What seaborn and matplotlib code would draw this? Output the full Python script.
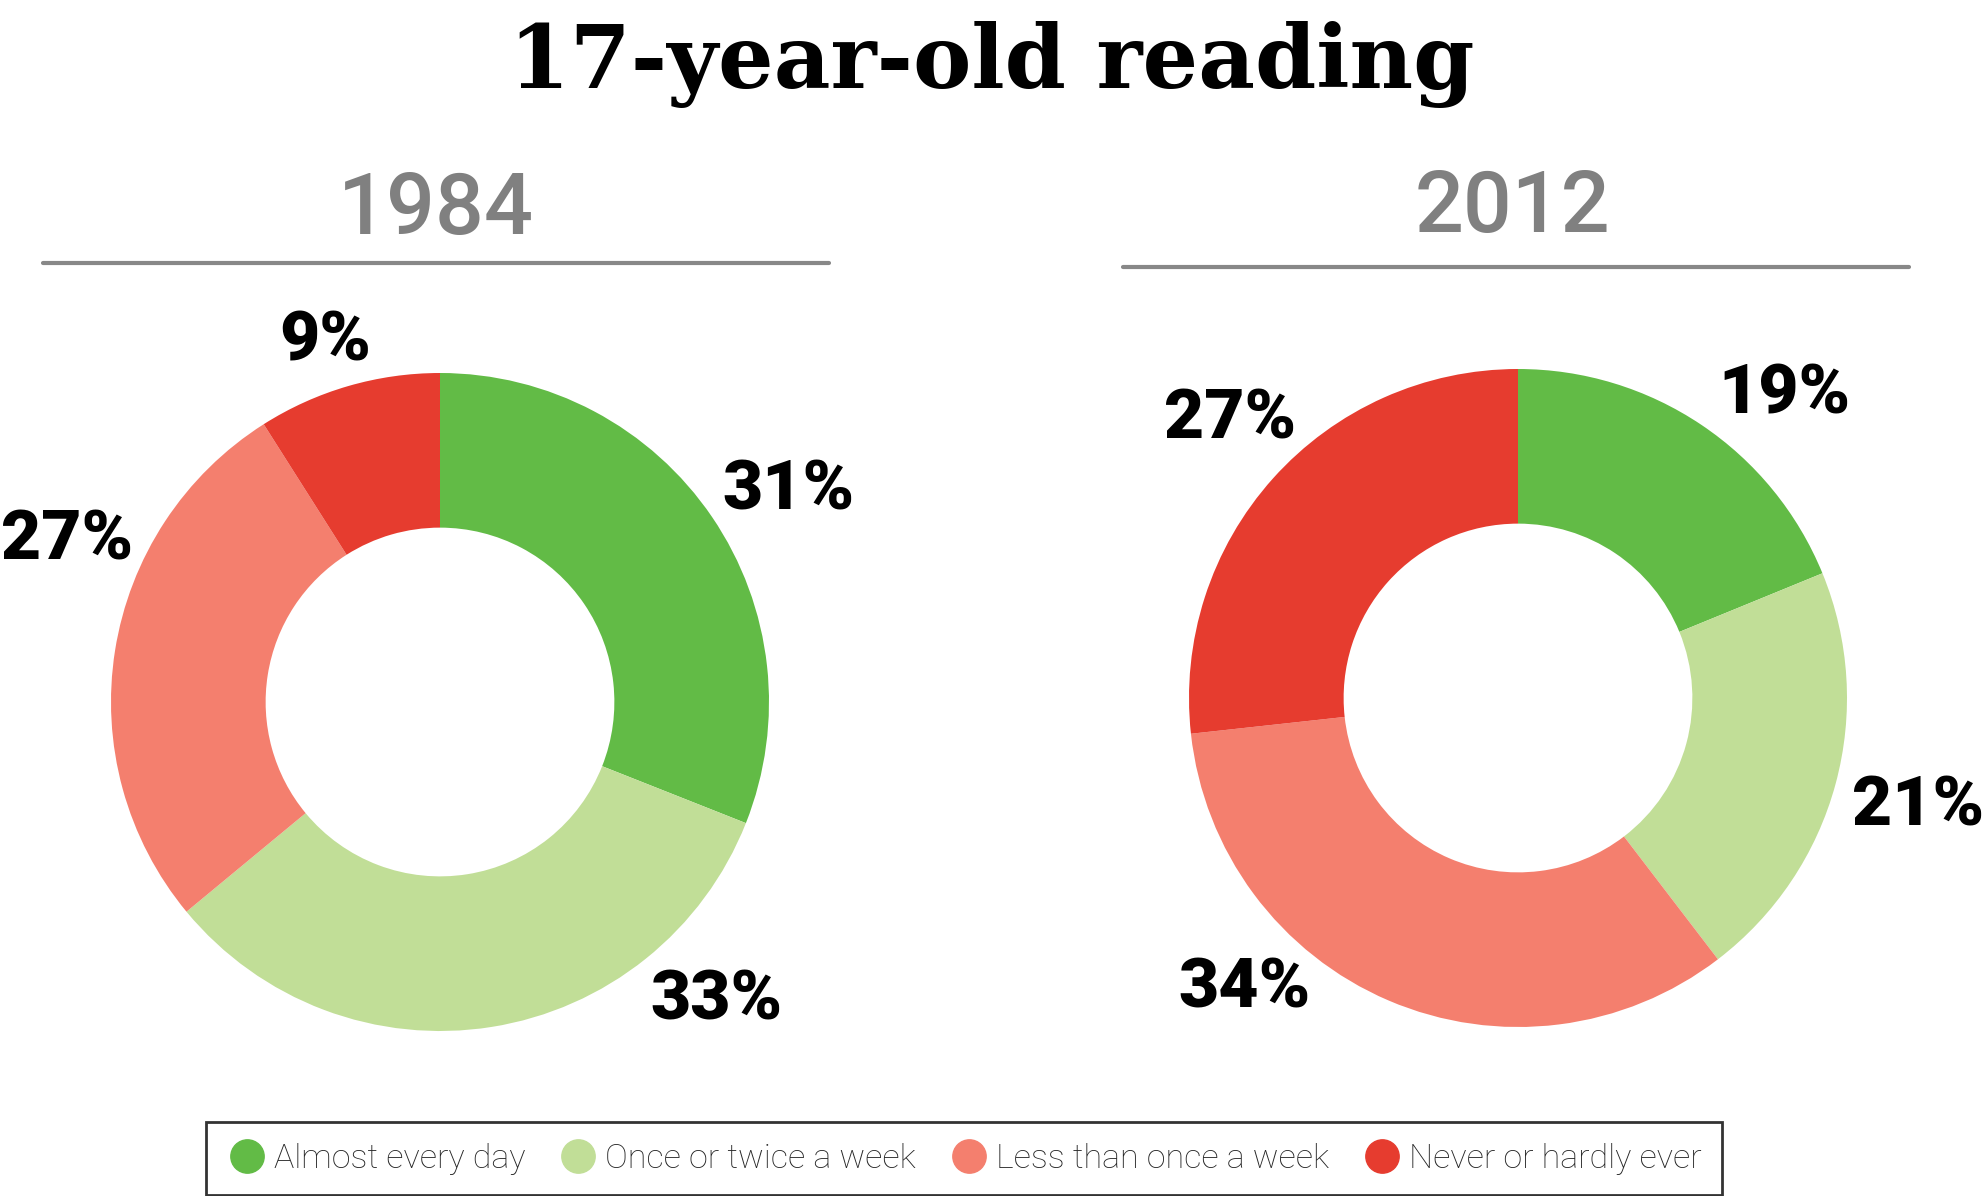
import matplotlib
matplotlib.use("Agg")
import matplotlib.pyplot as plt
from matplotlib.lines import Line2D
import seaborn as sns

# data
categories = ['Almost every day', 'Once or twice a week',
              'Less than once a week', 'Never or hardly ever']
years = ['1984', '2012']
share_1984 = [31, 33, 27, 9]
share_2012 = [19, 21, 34, 27]
title = '17-year-old reading'

colors = sns.color_palette(['#62BB46', '#C1DE97', '#F47F6E', '#E63C2F'])

sns.set_style('white')

W, H = 1983, 1196
fig = plt.figure(figsize=(W / 100, H / 100), dpi=100)

# donut geometry in pixels (x from left, y from top)
R = 329
centers = [(440, 702), (1518, 698)]
# label spots in donut radius units
label_spots = [
    [(1.06, 0.64), (0.84, -0.91), (-1.135, 0.49), (-0.35, 1.095)],
    [(0.81, 0.92), (1.215, -0.33), (-0.83, -0.885), (-0.875, 0.845)],
]
header_x = [345 * 1.2647, 1196 * 1.2647]
header_base = [234, 232]
rule_spans = [(43, 829, 263), (1123, 1909, 267)]

for i, vals in enumerate([share_1984, share_2012]):
    cx, cy = centers[i]
    ax = fig.add_axes([(cx - R) / W, 1 - (cy + R) / H, 2 * R / W, 2 * R / H])
    ax.pie(vals, colors=colors, startangle=90, counterclock=False, radius=1,
           wedgeprops=dict(width=0.47, linewidth=0))
    ax.set_xlim(-1, 1)
    ax.set_ylim(-1, 1)
    ax.set_aspect('equal')
    ax.axis('off')
    for v, (lx, ly) in zip(vals, label_spots[i]):
        ax.text(lx, ly, f'{v}%', ha='center', va='center', fontsize=50,
                fontweight='black', family='Roboto', color='black',
                clip_on=False)

    fig.text(header_x[i] / W, 1 - header_base[i] / H, years[i], ha='center',
             va='baseline', fontsize=62, family='Roboto', fontweight='medium',
             color='#808080')
    x0, x1, y = rule_spans[i]
    fig.add_artist(Line2D([x0 / W, x1 / W], [1 - y / H, 1 - y / H],
                          color='#888888', linewidth=3,
                          transform=fig.transFigure))

fig.text(0.5, 1 - 88 / H, title, ha='center', va='baseline', fontsize=63,
         fontweight='bold', family='DejaVu Serif', color='black')

handles = [Line2D([], [], marker='o', linestyle='none', markersize=24,
                  markerfacecolor=c, markeredgecolor=c) for c in colors]
leg = fig.legend(handles, categories, ncol=4, loc='lower center',
                 bbox_to_anchor=(964 / W, 1 / H), frameon=True, fancybox=False,
                 edgecolor='black', handletextpad=0.2, columnspacing=0.95,
                 handlelength=1.2, borderpad=0.6, borderaxespad=0,
                 prop={'family': 'Roboto', 'size': 24.5, 'weight': 'light'})
leg.get_frame().set_linewidth(2)

fig.savefig('out.png', dpi=100)
